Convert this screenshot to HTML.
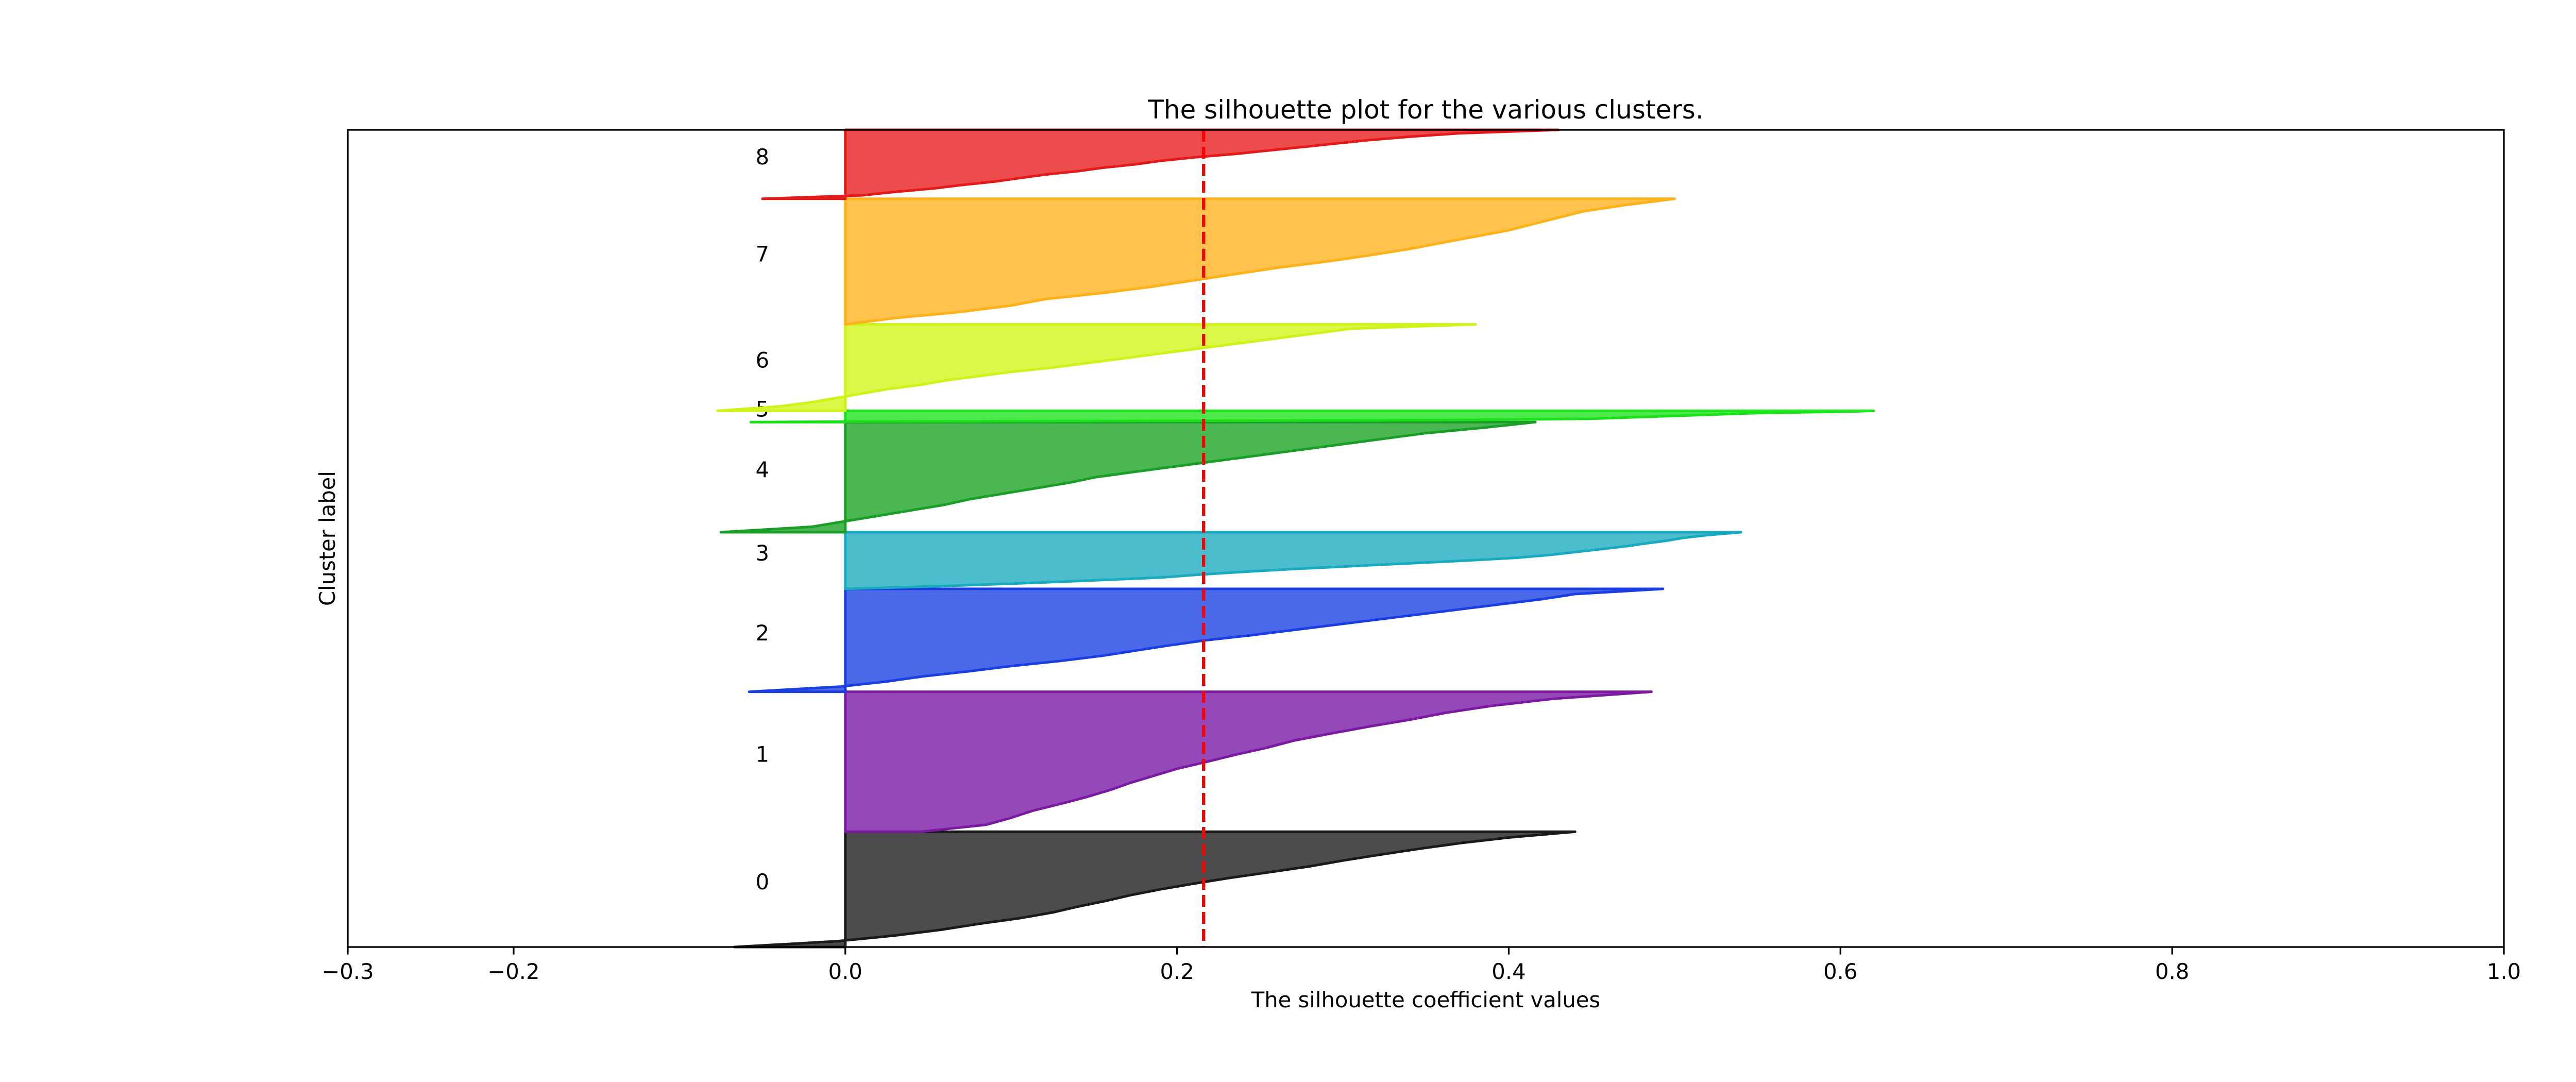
<!DOCTYPE html>
<html><head><meta charset="utf-8"><style>
html,body{margin:0;padding:0;background:#fff;width:5400px;height:2100px;overflow:hidden;}
svg{display:block;font-family:"DejaVu Sans","Liberation Sans",sans-serif;}
</style></head><body>
<svg id="chart" width="5400" height="2100" viewBox="0 0 5400 2100">
<rect width="5400" height="2100" fill="#fff"/>
<g id="marks"></g>
<g id="axes"></g>
</svg>
<script>
const clusterLabels = ["0","1","2","3","4","5","6","7","8"];
const clusterSizes = [112,136,100,55,107,11,84,122,67];
const sortedFractions = [0,0.05,0.1,0.15,0.2,0.25,0.3,0.35,0.4,0.45,0.5,0.55,0.6,0.65,0.7,0.75,0.8,0.85,0.9,0.95,1];
const cluster0Values = [-0.067,-0.005,0.03,0.058,0.08,0.105,0.125,0.14,0.157,0.172,0.19,0.21,0.232,0.256,0.28,0.3,0.322,0.345,0.37,0.4,0.44];
const cluster1Values = [0.045,0.085,0.1,0.113,0.13,0.146,0.16,0.172,0.186,0.2,0.218,0.235,0.254,0.27,0.292,0.315,0.34,0.362,0.39,0.427,0.486];
const cluster2Values = [-0.058,-0.003,0.025,0.047,0.075,0.1,0.13,0.155,0.175,0.195,0.217,0.245,0.27,0.295,0.32,0.345,0.37,0.395,0.42,0.44,0.493];
const cluster3Values = [0.0,0.06,0.108,0.15,0.19,0.213,0.24,0.27,0.305,0.34,0.375,0.405,0.425,0.44,0.455,0.47,0.482,0.495,0.505,0.52,0.54];
const cluster4Values = [-0.075,-0.02,0.0,0.02,0.04,0.06,0.075,0.095,0.115,0.135,0.151,0.175,0.2,0.225,0.25,0.275,0.3,0.325,0.35,0.385,0.416];
const cluster5Values = [-0.057,0.0,0.15,0.3,0.38,0.42,0.45,0.46,0.47,0.48,0.49,0.5,0.51,0.52,0.53,0.54,0.55,0.57,0.59,0.61,0.62];
const cluster6Values = [-0.077,-0.04,-0.02,-0.005,0.01,0.025,0.045,0.06,0.08,0.1,0.125,0.145,0.165,0.185,0.205,0.225,0.245,0.265,0.285,0.305,0.38];
const cluster7Values = [0.0,0.03,0.07,0.1,0.12,0.155,0.185,0.21,0.235,0.26,0.29,0.316,0.34,0.36,0.38,0.4,0.415,0.43,0.445,0.47,0.5];
const cluster8Values = [-0.05,0.01,0.03,0.053,0.07,0.09,0.105,0.12,0.14,0.155,0.175,0.19,0.21,0.235,0.255,0.275,0.295,0.315,0.34,0.37,0.43];
const averageScore = 0.216;
const xTickValues = [-0.3,-0.2,0.0,0.2,0.4,0.6,0.8,1.0];
const xTickLabels = ["\u22120.3","\u22120.2","0.0","0.2","0.4","0.6","0.8","1.0"];

const allValues = [cluster0Values,cluster1Values,cluster2Values,cluster3Values,cluster4Values,cluster5Values,cluster6Values,cluster7Values,cluster8Values];
const fillColors = ["#4c4c4c","#9549b8","#4a69e8","#4cbdcd","#4bb753","#4ce84c","#dbf748","#ffc24c","#ec4c4c"];
const edgeColors = ["#1a1a1a","#7a1aa0","#1a3ee0","#1aaabf","#1a9e28","#1ae01a","#cdf31a","#ffb11a","#e21a1a"];

const L=675,R=4860,T=252,B=1838;
const X0=-0.3,X1=1.0;
const totalN = clusterSizes.reduce((a,b)=>a+b,0);
function xs(v){return L+(v-X0)/(X1-X0)*(R-L);}
function ys(n){return B-n/totalN*(B-T);}
const NS="http://www.w3.org/2000/svg";
function mk(tag,attrs,parent){const e=document.createElementNS(NS,tag);for(const k in attrs)e.setAttribute(k,attrs[k]);parent.appendChild(e);return e;}
const marks=document.getElementById('marks');
const axes=document.getElementById('axes');

let cum=0;
for(let i=0;i<clusterSizes.length;i++){
  const lo=cum, hi=cum+clusterSizes[i];
  const vals=allValues[i];
  let pts=[[xs(0),ys(lo)]];
  for(let k=0;k<vals.length;k++){
    pts.push([xs(vals[k]),ys(lo+sortedFractions[k]*(hi-lo))]);
  }
  pts.push([xs(0),ys(hi)]);
  const p=mk('polygon',{points:pts.map(q=>q[0].toFixed(1)+','+q[1].toFixed(1)).join(' '),fill:fillColors[i],stroke:edgeColors[i],'stroke-width':5,'stroke-linejoin':'round'},marks);
  
  
  const t=mk('text',{x:xs(-0.05),y:ys((lo+hi)/2),'font-size':41.7,fill:'#000','text-anchor':'middle'},marks);
  t.textContent=clusterLabels[i];
  
  
  cum=hi;
}
const avg=mk('line',{x1:xs(averageScore),x2:xs(averageScore),y1:T,y2:B,stroke:'#ff0000','stroke-width':6.25,'stroke-dasharray':'23 10'},marks);



const frame=mk('rect',{x:L,y:T,width:R-L,height:B-T,fill:'none',stroke:'#000','stroke-width':3.3},axes);


for(let i=0;i<xTickValues.length;i++){
  const x=xs(xTickValues[i]);
  const tk=mk('line',{x1:x,x2:x,y1:B,y2:B+14.6,stroke:'#000','stroke-width':3.3},axes);
  
  
  const tl=mk('text',{x:x,y:B+62,'font-size':41.7,'text-anchor':'middle',fill:'#000'},axes);
  tl.textContent=xTickLabels[i];
  
  
}
const title=mk('text',{x:(L+R)/2,y:T-22,'font-size':50,'text-anchor':'middle',fill:'#000'},axes);
title.textContent='The silhouette plot for the various clusters.';


const xl=mk('text',{x:(L+R)/2,y:1955,'font-size':41.7,'text-anchor':'middle',fill:'#000'},axes);
xl.textContent='The silhouette coefficient values';


const yl=mk('text',{x:0,y:0,'font-size':41.7,'text-anchor':'middle',fill:'#000',transform:'translate(650,'+((T+B)/2)+') rotate(-90)'},axes);
yl.textContent='Cluster label';


</script>
</body></html>
